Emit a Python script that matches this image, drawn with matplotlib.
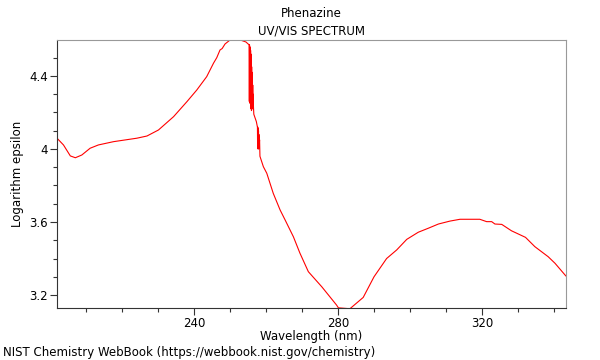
import matplotlib
matplotlib.use("Agg")
import matplotlib.pyplot as plt
from matplotlib.ticker import MultipleLocator, FormatStrFormatter

# wavelength (nm) and log epsilon
wavelength = [201.9, 203.7, 205.6, 207.0, 208.8, 211.1, 213.4, 217.6, 224.1, 226.9,
              230.1, 234.3, 238.0, 240.75, 243.5, 245.4, 246.3, 247.2, 247.8, 248.6,
              250.0, 252.8, 254.4, 255.3,
              255.35, 255.4, 255.45, 255.5, 255.55, 255.6, 255.65, 255.7, 255.75, 255.8,
              255.85, 255.9, 255.95, 256.0, 256.05, 256.1, 256.15, 256.2, 256.25, 256.3,
              256.35, 256.4, 256.5,
              256.6, 257.3, 257.6, 257.65, 257.7, 257.75, 257.8, 257.85, 257.9, 257.95,
              258.0, 258.1, 258.2, 258.3,
              259.25, 260.2, 262.0, 263.9, 265.3, 267.6, 269.4, 271.75, 275.5, 279.6,
              280.1, 283.3, 287.0, 290.0, 293.5, 296.3, 299.1, 302.3, 305.1, 307.9,
              311.1, 313.9, 319.4, 321.3, 322.7, 323.6, 325.5, 328.2, 332.1, 334.7,
              338.4, 340.3, 343.3]
log_eps = [4.059, 4.022, 3.962, 3.952, 3.967, 4.004, 4.022, 4.040, 4.059, 4.071,
           4.104, 4.177, 4.259, 4.323, 4.396, 4.470, 4.500, 4.542, 4.550, 4.575,
           4.597, 4.597, 4.586, 4.570,
           4.26, 4.57, 4.30, 4.56, 4.25, 4.55, 4.28, 4.54, 4.22, 4.52,
           4.30, 4.50, 4.21, 4.45, 4.25, 4.42, 4.22, 4.38, 4.24, 4.35,
           4.22, 4.30, 4.23,
           4.19, 4.15, 4.12, 4.01, 4.12, 4.00, 4.11, 4.02, 4.10, 4.00,
           4.08, 4.02, 4.05, 3.96,
           3.903, 3.867, 3.757, 3.666, 3.611, 3.519, 3.430, 3.328, 3.245, 3.145,
           3.130, 3.125, 3.187, 3.300, 3.400, 3.447, 3.505, 3.544, 3.566, 3.589,
           3.605, 3.615, 3.615, 3.602, 3.602, 3.589, 3.587, 3.552, 3.516, 3.465,
           3.410, 3.374, 3.305]

fig = plt.figure(figsize=(6, 3.6), dpi=100)
ax = fig.add_axes([0.095, 0.1444, 0.848, 0.7446])

ax.plot(wavelength, log_eps, color="red", lw=0.8)

ax.set_xlim(201.9, 343.3)
ax.set_ylim(3.129, 4.597)

ax.xaxis.set_major_locator(MultipleLocator(40))
ax.xaxis.set_minor_locator(MultipleLocator(10))
ax.yaxis.set_major_locator(MultipleLocator(0.4))
ax.yaxis.set_minor_locator(MultipleLocator(0.1))
ax.yaxis.set_major_formatter(FormatStrFormatter("%g"))
ax.tick_params(which="major", length=5, width=0.8, labelsize=8.5, color="#333333", pad=1.5)
ax.tick_params(which="minor", length=3, width=0.8, color="#333333")

for side in ["top", "right"]:
    ax.spines[side].set_color("#999999")
for side in ["left", "bottom"]:
    ax.spines[side].set_color("#333333")

ax.set_xlabel("Wavelength (nm)", fontsize=8.5, labelpad=0)
ax.set_ylabel("Logarithm epsilon", fontsize=8.5, labelpad=4)
ax.set_title("Phenazine\nUV/VIS SPECTRUM", fontsize=8.5, pad=4, linespacing=1.45)

fig.text(0.005, 0.01, "NIST Chemistry WebBook (https://webbook.nist.gov/chemistry)", fontsize=8.5)

fig.savefig("out.png", dpi=100)
